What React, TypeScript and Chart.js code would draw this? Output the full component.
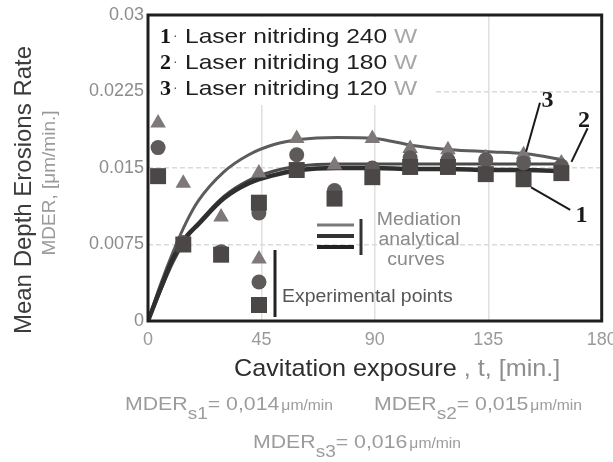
import React, { useEffect, useRef } from 'react';
import { Chart, registerables } from 'chart.js';

Chart.register(...registerables);

// Experimental points: cavitation exposure time [min] and measured MDER [µm/min]
const EXPOSURE_MIN = [4, 14, 29, 44, 59, 74, 89, 104, 119, 134, 149, 164];
const MDER_240W = [0.0142, 0.0075, 0.0065, 0.0116, 0.0148, 0.0120, 0.0141, 0.0151, 0.0151, 0.0144, 0.0139, 0.0145];
const MDER_180W = [0.0170, 0.0077, 0.0068, 0.0106, 0.0163, 0.0128, 0.0150, 0.0160, 0.0158, 0.0158, 0.0155, 0.0152];
const MDER_120W = [0.0194, 0.0135, 0.0102, 0.0145, 0.0179, 0.0153, 0.0179, 0.0169, 0.0168, 0.0160, 0.0163, 0.0155];

// Mediation analytical curves
const CURVE_T = [0, 5, 10, 15, 20, 30, 40, 50, 60, 75, 90, 105, 120, 135, 150, 165];
const CURVE_240W = [0, 0.0032, 0.0062, 0.0082, 0.0095, 0.0120, 0.0135, 0.0143, 0.0148, 0.0150, 0.0150, 0.0149, 0.0149, 0.0148, 0.0148, 0.0147];
const CURVE_180W = [0, 0.0030, 0.0058, 0.0080, 0.0096, 0.0122, 0.0138, 0.0147, 0.0152, 0.0154, 0.0154, 0.0154, 0.0154, 0.0154, 0.0154, 0.0154];
const CURVE_120W = [0, 0.0036, 0.0068, 0.0096, 0.0118, 0.0146, 0.0163, 0.0173, 0.0178, 0.0180, 0.0179, 0.0172, 0.0168, 0.0166, 0.0164, 0.0158];

const Y_TICKS = [0, 0.0075, 0.015, 0.0225, 0.03];
const Y_TICK_LABELS = ['0', '0.0075', '0.015', '0.0225', '0.03'];
const X_TICKS = [0, 45, 90, 135, 180];
const X_TICK_LABELS = ['0', '45', '90', '135', '180'];

const LEGEND_NUMS = ['1', '2', '3'];
const LEGEND_TEXTS = ['Laser nitriding 240', 'Laser nitriding 180', 'Laser nitriding 120'];

const STEADY_SUBS = ['s1', 's2', 's3'];
const STEADY_VALUES = ['0,014', '0,015', '0,016'];

// Curve callouts in data coordinates: [t, MDER]
const CALLOUT_LABELS = ['3', '2', '1'];
const CALLOUT_AT = [[158.5, 0.0219], [173, 0.0199], [172, 0.0106]];
const CALLOUT_FROM = [[155.5, 0.0214], [174.4, 0.0189], [167.5, 0.0109]];
const CALLOUT_TO = [[150, 0.0166], [168, 0.0156], [152, 0.0131]];

const SANS = '"Liberation Sans", Arial, sans-serif';
const SERIF = '"Liberation Serif", "Times New Roman", serif';

const COL_TRI = '#7e7878';
const COL_CIR = '#5f5a5a';
const COL_SQ = '#4b4747';

function text(ctx: CanvasRenderingContext2D, s: string, x: number, y: number, font: string, color: string, sx = 1, align: CanvasTextAlign = 'left') {
  ctx.save();
  ctx.translate(x, y);
  ctx.scale(sx, 1);
  ctx.font = font;
  ctx.fillStyle = color;
  ctx.textAlign = align;
  ctx.textBaseline = 'alphabetic';
  ctx.fillText(s, 0, 0);
  ctx.restore();
  ctx.save();
  ctx.font = font;
  const w = ctx.measureText(s).width * sx;
  ctx.restore();
  return w;
}

function marker(ctx: CanvasRenderingContext2D, kind: string, x: number, y: number) {
  ctx.save();
  ctx.beginPath();
  if (kind === 'triangle') {
    const r = 9;
    ctx.fillStyle = COL_TRI;
    ctx.moveTo(x, y - r);
    ctx.lineTo(x + r * 0.866, y + r * 0.5);
    ctx.lineTo(x - r * 0.866, y + r * 0.5);
    ctx.closePath();
  } else if (kind === 'circle') {
    ctx.fillStyle = COL_CIR;
    ctx.arc(x, y, 7.5, 0, Math.PI * 2);
  } else {
    ctx.fillStyle = COL_SQ;
    ctx.rect(x - 8, y - 8, 16, 16);
  }
  ctx.fill();
  ctx.restore();
}

const overlay = {
  id: 'mderOverlay',
  beforeDatasetsDraw(chart: any) {
    const { ctx, chartArea: a } = chart;
    // blank panel behind the series list
    ctx.save();
    ctx.fillStyle = '#ffffff';
    ctx.fillRect(a.left + 2, a.top + 2, 285, 88);
    ctx.restore();
  },
  afterDatasetsDraw(chart: any) {
    const { ctx, chartArea: a, scales } = chart;
    const xs = scales.x;
    const ys = scales.y;

    // plot frame
    ctx.save();
    ctx.strokeStyle = '#1e1e1e';
    ctx.lineWidth = 3;
    ctx.strokeRect(a.left, a.top, a.right - a.left, a.bottom - a.top);
    ctx.restore();

    // series list
    LEGEND_NUMS.forEach((n, i) => {
      const base = a.top + 28 + i * 26;
      text(ctx, n, a.left + 12, base, `bold 22px ${SERIF}`, '#151515');
      text(ctx, '·', a.left + 25, base - 3, `14px ${SANS}`, '#555');
      const w = text(ctx, LEGEND_TEXTS[i] + ' ', a.left + 37, base, `21px ${SANS}`, '#202020', 1.17);
      text(ctx, 'W', a.left + 37 + w, base, `21px ${SANS}`, '#a8a8a8', 1.17);
    });

    // analytical curves key
    const mx = a.left + 169;
    const my = a.top + 210;
    ctx.save();
    ctx.lineCap = 'butt';
    [['#7a7a7a', 3], ['#333', 4], ['#222', 4]].forEach((s, i) => {
      ctx.strokeStyle = s[0] as string;
      ctx.lineWidth = s[1] as number;
      ctx.beginPath();
      ctx.moveTo(mx, my + i * 11);
      ctx.lineTo(mx + 37, my + i * 11);
      ctx.stroke();
    });
    ctx.strokeStyle = '#333';
    ctx.lineWidth = 3;
    ctx.beginPath();
    ctx.moveTo(mx + 44, my - 6);
    ctx.lineTo(mx + 44, my + 30);
    ctx.stroke();
    ctx.restore();
    text(ctx, 'Mediation', a.left + 271, a.top + 210, `18px ${SANS}`, '#8a8a8a', 1.08, 'center');
    text(ctx, 'analytical', a.left + 271, a.top + 230, `18px ${SANS}`, '#8a8a8a', 1.08, 'center');
    text(ctx, 'curves', a.left + 268, a.top + 250, `18px ${SANS}`, '#8a8a8a', 1.08, 'center');

    // experimental points key
    const ex = a.left + 111;
    marker(ctx, 'triangle', ex, a.top + 244);
    marker(ctx, 'circle', ex, a.top + 267);
    marker(ctx, 'square', ex, a.top + 290);
    ctx.save();
    ctx.strokeStyle = '#222';
    ctx.lineWidth = 3;
    ctx.beginPath();
    ctx.moveTo(a.left + 127, a.top + 235);
    ctx.lineTo(a.left + 127, a.top + 302);
    ctx.stroke();
    ctx.restore();
    text(ctx, 'Experimental points', a.left + 134, a.top + 287, `18px ${SANS}`, '#555', 1.08);

    // curve callouts
    CALLOUT_LABELS.forEach((lab, i) => {
      ctx.save();
      ctx.strokeStyle = '#1a1a1a';
      ctx.lineWidth = 2;
      ctx.beginPath();
      ctx.moveTo(xs.getPixelForValue(CALLOUT_FROM[i][0]), ys.getPixelForValue(CALLOUT_FROM[i][1]));
      ctx.lineTo(xs.getPixelForValue(CALLOUT_TO[i][0]), ys.getPixelForValue(CALLOUT_TO[i][1]));
      ctx.stroke();
      ctx.restore();
      text(ctx, lab, xs.getPixelForValue(CALLOUT_AT[i][0]), ys.getPixelForValue(CALLOUT_AT[i][1]) + 9, `bold 24px ${SERIF}`, '#1a1a1a', 1, 'center');
    });
  },
  afterDraw(chart: any) {
    const { ctx, chartArea: a } = chart;
    // y axis titles
    ctx.save();
    ctx.translate(24, 190);
    ctx.rotate(-Math.PI / 2);
    ctx.font = `24px ${SANS}`;
    ctx.fillStyle = '#3c3c3c';
    ctx.textAlign = 'center';
    ctx.textBaseline = 'middle';
    ctx.fillText('Mean Depth Erosions Rate', 0, 0);
    ctx.restore();
    ctx.save();
    ctx.translate(50, 183);
    ctx.rotate(-Math.PI / 2);
    ctx.font = `19px ${SANS}`;
    ctx.fillStyle = '#9a9a9a';
    ctx.textAlign = 'center';
    ctx.textBaseline = 'middle';
    ctx.fillText('MDER, [\u03bcm/min.]', 0, 0);
    ctx.restore();

    // x axis title
    const tx = a.left + 86;
    const ty = a.bottom + 55;
    const w1 = text(ctx, 'Cavitation exposure ', tx, ty, `24px ${SANS}`, '#2e2e2e', 1.05);
    text(ctx, ', t, [min.]', tx + w1, ty, `24px ${SANS}`, '#8e8e8e', 1.05);

    // steady-state rates
    const rows = [[a.left - 23, a.bottom + 89], [a.left + 226, a.bottom + 89], [a.left + 105, a.bottom + 127]];
    STEADY_SUBS.forEach((sub, i) => {
      let x = rows[i][0];
      const y = rows[i][1];
      const c = '#9c9c9c';
      x += text(ctx, 'MDER', x, y, `19px ${SANS}`, c, 1.12);
      x += text(ctx, sub, x, y + 9, `17px ${SANS}`, c, 1.12);
      x += text(ctx, '= ' + STEADY_VALUES[i], x, y, `19px ${SANS}`, c, 1.12);
      text(ctx, '\u03bcm/min', x + 2, y, `14px ${SANS}`, c, 1.12);
    });
  },
};

export default function App() {
  const ref = useRef<HTMLCanvasElement | null>(null);

  useEffect(() => {
    document.body.style.margin = '0';
    const canvas = ref.current;
    if (!canvas) return;

    const pts = (ys: number[]) => EXPOSURE_MIN.map((t, i) => ({ x: t, y: ys[i] }));
    const crv = (ys: number[]) => CURVE_T.map((t, i) => ({ x: t, y: ys[i] }));

    const chart = new Chart(canvas, {
      type: 'scatter',
      data: {
        datasets: [
          { label: '240 W', data: pts(MDER_240W), pointStyle: 'rect', pointRadius: 11.3, backgroundColor: COL_SQ, borderWidth: 0, order: 1, clip: false } as any,
          { label: '180 W', data: pts(MDER_180W), pointStyle: 'circle', pointRadius: 7.5, backgroundColor: COL_CIR, borderWidth: 0, order: 2, clip: false } as any,
          { label: '120 W', data: pts(MDER_120W), pointStyle: 'triangle', pointRadius: 9, backgroundColor: COL_TRI, borderWidth: 0, order: 3, clip: false } as any,
          { type: 'line', label: 'curve 240 W', data: crv(CURVE_240W), borderColor: '#2f2f2f', borderWidth: 4.5, pointRadius: 0, cubicInterpolationMode: 'monotone', fill: false, order: 4 } as any,
          { type: 'line', label: 'curve 180 W', data: crv(CURVE_180W), borderColor: '#4a4a4a', borderWidth: 3, pointRadius: 0, cubicInterpolationMode: 'monotone', fill: false, order: 5 } as any,
          { type: 'line', label: 'curve 120 W', data: crv(CURVE_120W), borderColor: '#5c5c5c', borderWidth: 3, pointRadius: 0, cubicInterpolationMode: 'monotone', fill: false, order: 6 } as any,
        ],
      },
      options: {
        responsive: false,
        animation: false,
        devicePixelRatio: 1,
        layout: { padding: { top: 15, right: 10, left: 0, bottom: 0 } },
        plugins: { legend: { display: false }, tooltip: { enabled: false } },
        scales: {
          x: {
            type: 'linear',
            min: 0,
            max: 180,
            afterBuildTicks: (s: any) => { s.ticks = X_TICKS.map((v) => ({ value: v })); },
            afterFit: (s: any) => { s.height = 141; s.paddingLeft = 0; s.paddingRight = 0; },
            ticks: {
              callback: (_v: any, i: number) => X_TICK_LABELS[i],
              color: '#9a9a9a',
              font: { family: SANS, size: 18 },
              padding: 8,
              maxRotation: 0,
            },
            grid: { color: '#e0e0e0', lineWidth: 1.5, drawTicks: false },
            border: { display: false },
          },
          y: {
            type: 'linear',
            min: 0,
            max: 0.03,
            afterBuildTicks: (s: any) => { s.ticks = Y_TICKS.map((v) => ({ value: v })); },
            afterFit: (s: any) => { s.width = 148; },
            ticks: {
              callback: (_v: any, i: number) => Y_TICK_LABELS[i],
              color: '#8c8c8c',
              font: { family: SANS, size: 18 },
              padding: 4,
            },
            grid: { color: '#dadada', lineWidth: 1.5, drawTicks: false },
            border: { display: false, dash: [5, 3] },
          },
        },
      },
      plugins: [overlay],
    });

    return () => chart.destroy();
  }, []);

  return <canvas ref={ref} width={613} height={462} style={{ display: 'block' }} />;
}
